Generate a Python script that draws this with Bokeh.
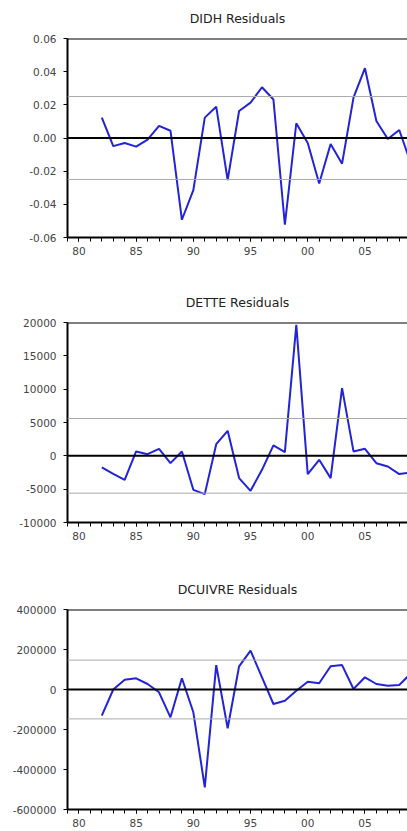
from bokeh.plotting import figure
from bokeh.layouts import column
from bokeh.models import Range1d, FixedTicker, Span, Title
from bokeh.embed import file_html
from bokeh.resources import INLINE

# ---- data ----
years = list(range(1982, 2010))

didh_resid = [0.0123, -0.0049, -0.0030, -0.0052, -0.0010, 0.0073, 0.0044, -0.0493,
              -0.0314, 0.0123, 0.0189, -0.0254, 0.0163, 0.0213, 0.0306, 0.0232,
              -0.0523, 0.0089, -0.0030, -0.0274, -0.0036, -0.0155, 0.0243, 0.0421,
              0.0103, -0.0006, 0.0048, -0.0150]

dette_resid = [-1740, -2700, -3600, 660, 250, 1050, -1100, 660,
               -5100, -5740, 1750, 3750, -3340, -5250, -2100, 1560,
               550, 19640, -2740, -600, -3340, 10150, 660, 1050,
               -1100, -1600, -2740, -2500]

dcuivre_resid = [-131000, 0, 49000, 56000, 27500, -14000, -139000, 56000,
                 -114000, -489000, 122000, -194000, 116000, 194000, 61000, -72500,
                 -56000, -6000, 39000, 31000, 116000, 122000, 2500, 61000,
                 27500, 19000, 22500, 80000]

titles = ["DIDH Residuals", "DETTE Residuals", "DCUIVRE Residuals"]

didh_ticks = [-0.06, -0.04, -0.02, 0.0, 0.02, 0.04, 0.06]
didh_tick_labels = ["-0.06", "-0.04", "-0.02", "0.00", "0.02", "0.04", "0.06"]
dette_ticks = [-10000, -5000, 0, 5000, 10000, 15000, 20000]
dette_tick_labels = ["-10000", "-5000", "0", "5000", "10000", "15000", "20000"]
dcuivre_ticks = [-600000, -400000, -200000, 0, 200000, 400000]
dcuivre_tick_labels = ["-600000", "-400000", "-200000", "0", "200000", "400000"]

# +/- standard error band levels
didh_band = 0.025
dette_band = 5600
dcuivre_band = 147000

x_major = [1980, 1985, 1990, 1995, 2000, 2005]
x_labels = ["80", "85", "90", "95", "00", "05"]
x_minor = list(range(1979, 2010))

X_START, X_END = 1979.0, 2008.72

LINE_COLOR = "#2323d8"
TICK_FONT = "DejaVu Sans"


def make_panel(title, values, yticks, ylabels, band, height, border_top, border_bottom):
    p = figure(width=407, height=height, output_backend="svg", toolbar_location=None,
               x_range=Range1d(X_START, X_END),
               y_range=Range1d(yticks[0], yticks[-1]),
               min_border_left=67, min_border_right=0, min_border_top=border_top,
               min_border_bottom=border_bottom)
    p.title = Title(text=title, align="center", text_font="DejaVu Sans",
                    text_font_size="12.5px", text_font_style="normal",
                    text_color="#222222", standoff=21, vertical_align="top")
    p.outline_line_color = None
    p.xgrid.visible = False
    p.ygrid.visible = False

    # std error bands
    for b in (band, -band):
        p.add_layout(Span(location=b, dimension="width", line_color="#aaaaaa", line_width=1))
    # zero line and top frame line
    p.add_layout(Span(location=0, dimension="width", line_color="black", line_width=2))
    p.add_layout(Span(location=yticks[-1], dimension="width", line_color="black", line_width=2))

    p.line(years, values, line_color=LINE_COLOR, line_width=2)

    # y axis
    ya = p.yaxis[0]
    ya.ticker = FixedTicker(ticks=yticks, minor_ticks=[])
    ya.major_label_overrides = {t: l for t, l in zip(yticks, ylabels)}
    ya.axis_line_color = "black"
    ya.axis_line_width = 2
    ya.major_tick_in = 0
    ya.major_tick_out = 4
    ya.major_tick_line_width = 1
    ya.minor_tick_line_color = None
    ya.major_label_standoff = 7
    ya.major_label_text_font = TICK_FONT
    ya.major_label_text_font_size = "10.5px"
    ya.major_label_text_color = "#444444"

    # x axis
    xa = p.xaxis[0]
    xa.ticker = FixedTicker(ticks=x_major, minor_ticks=x_minor)
    xa.major_label_overrides = {t: l for t, l in zip(x_major, x_labels)}
    xa.axis_line_color = "black"
    xa.axis_line_width = 2
    xa.major_tick_in = 0
    xa.major_tick_out = 4
    xa.minor_tick_in = 0
    xa.minor_tick_out = 4
    xa.minor_tick_line_color = "black"
    xa.major_tick_line_color = "black"
    xa.major_label_standoff = 5
    xa.major_label_text_font = TICK_FONT
    xa.major_label_text_font_size = "10.5px"
    xa.major_label_text_color = "#444444"
    return p


p1 = make_panel(titles[0], didh_resid, didh_ticks, didh_tick_labels, didh_band, 282, 36, 45)
p2 = make_panel(titles[1], dette_resid, dette_ticks, dette_tick_labels, dette_band, 287, 40, 47)
p3 = make_panel(titles[2], dcuivre_resid, dcuivre_ticks, dcuivre_tick_labels, dcuivre_band, 260, 40, 20)

layout = column(p1, p2, p3, spacing=0)

open("out.html", "w").write(file_html(layout, INLINE))
